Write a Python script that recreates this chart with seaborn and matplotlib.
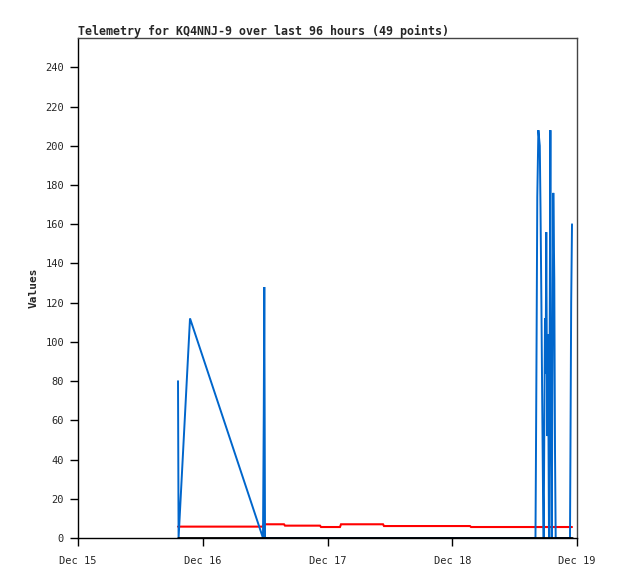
import pandas as pd
import numpy as np
import matplotlib
matplotlib.use("Agg")
import matplotlib.pyplot as plt
import seaborn as sns

# ── Data ────────────────────────────────────────────────────
start = "2024-12-15 00:00"
# hours since Dec 15 00:00 for each telemetry packet
hours = [19.24, 19.35, 21.55, 35.59, 35.74, 35.84, 35.98, 39.63, 39.82,
         46.56, 46.75, 50.40, 50.60, 58.68, 58.87, 65.80, 75.41, 75.61,
         81.20, 88.01, 88.09, 88.23, 88.36, 88.57, 88.84, 88.98, 89.15,
         89.30, 89.46, 89.59, 89.71, 89.84, 89.96, 90.09, 90.27, 90.42,
         90.61, 90.88, 91.00, 91.13, 91.29, 91.44, 91.63, 91.77, 91.90,
         94.65, 94.73, 94.88, 95.04]
blue_vals = [80, 0, 112, 0, 64, 128, 0, 0, 0,
             0, 0, 0, 0, 0, 0, 0, 0, 0,
             0, 0, 35, 104, 174, 208, 200, 168, 120,
             72, 24, 0, 56, 112, 84, 156, 52, 104,
             0, 208, 56, 0, 88, 176, 132, 44, 0,
             0, 40, 120, 160]
red_vals = [5.8, 5.8, 5.8, 5.8, 7.0, 7.0, 7.0, 7.0, 6.3,
            6.3, 5.6, 5.6, 7.0, 7.0, 6.1, 6.1, 6.1, 5.6,
            5.6, 5.6, 5.6, 5.6, 5.6, 5.6, 5.6, 5.6, 5.6,
            5.6, 5.6, 5.6, 5.6, 5.6, 5.6, 5.6, 5.6, 5.6,
            5.6, 5.6, 5.6, 5.6, 5.6, 5.6, 5.6, 5.6, 5.6,
            5.6, 5.6, 5.6, 5.6]
black_vals = [0] * len(hours)

y_ticks = [0, 20, 40, 60, 80, 100, 120, 140, 160, 180, 200, 220, 240]
x_tick_days = ["2024-12-15", "2024-12-16", "2024-12-17", "2024-12-18", "2024-12-19"]
x_tick_labels = ["Dec 15", "Dec 16", "Dec 17", "Dec 18", "Dec 19"]
title = "Telemetry for KQ4NNJ-9 over last 96 hours (49 points)"

df = pd.DataFrame({
    "time": pd.Timestamp(start) + pd.to_timedelta(hours, unit="h"),
    "blue": blue_vals,
    "red": red_vals,
    "black": black_vals,
})

# ── Plot ────────────────────────────────────────────────────
sns.set_theme(style="white")
plt.rcParams["font.family"] = ["DejaVu Sans Mono"]

fig = plt.figure(figsize=(6.18, 5.79), dpi=100)
ax = fig.add_axes([78 / 618, 1 - 538 / 579, 499 / 618, 500 / 579])

line_kw = dict(sort=False, estimator=None, solid_joinstyle="miter")
sns.lineplot(data=df, x="time", y="red", ax=ax, color="#ff0000", linewidth=1.5, **line_kw)
sns.lineplot(data=df, x="time", y="blue", ax=ax, color="#0066cc", linewidth=1.4, **line_kw)
sns.lineplot(data=df, x="time", y="black", ax=ax, color="#000000", linewidth=2.0, **line_kw)

ax.set_xlim(pd.Timestamp(x_tick_days[0]), pd.Timestamp(x_tick_days[-1]))
ax.set_ylim(0, 255)
ax.set_yticks(y_ticks)
ax.set_xticks([pd.Timestamp(d) for d in x_tick_days])
ax.set_xticklabels(x_tick_labels)

ax.tick_params(axis="both", direction="out", length=6, width=1, color="black",
               labelsize=7.5, pad=4, left=True, bottom=True)
ax.tick_params(axis="x", pad=7)

for side in ["left", "bottom"]:
    ax.spines[side].set_color("black")
    ax.spines[side].set_linewidth(1)
for side in ["top", "right"]:
    ax.spines[side].set_color("#444444")
    ax.spines[side].set_linewidth(1)

ax.set_xlabel("")
ax.set_ylabel("Values", fontsize=8, fontweight="bold", labelpad=5)
ax.set_title(title, loc="left", fontsize=8.4, fontweight="bold", pad=2)

fig.savefig("out.png", dpi=100)
